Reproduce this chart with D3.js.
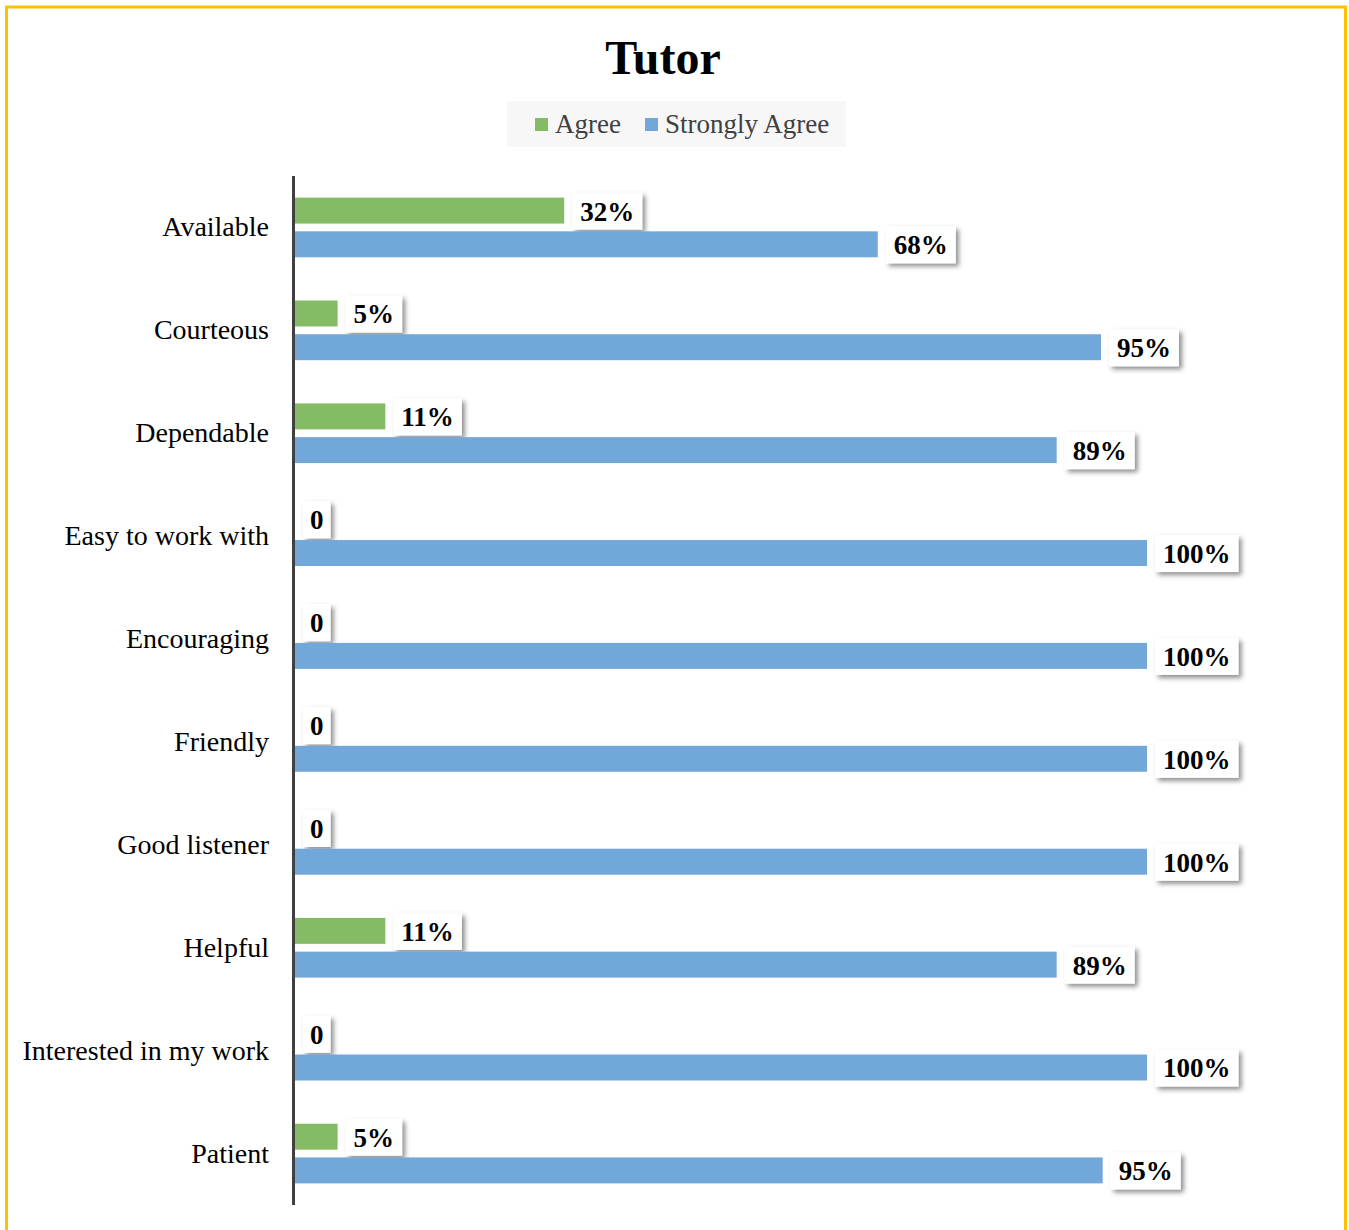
<!DOCTYPE html>
<html>
<head>
<meta charset="utf-8">
<script src="https://cdn.jsdelivr.net/npm/d3@7"></script>
<style>
  body { margin: 0; background: #fff; }
  svg { display: block; font-family: "Liberation Serif", "Times New Roman", serif; }
</style>
</head>
<body>
<div id="chart"></div>
<script>
// data
const categories = ["Available", "Courteous", "Dependable", "Easy to work with", "Encouraging",
    "Friendly", "Good listener", "Helpful", "Interested in my work", "Patient"];
const seriesNames = ["Agree", "Strongly Agree"];
const agree = [31.6, 5, 10.6, 0, 0, 0, 0, 10.6, 0, 5];
const stronglyAgree = [68.4, 94.6, 89.4, 100, 100, 100, 100, 89.4, 100, 94.8];
const colors = ["#86bb66", "#72a7d9"];

const width = 1349, height = 1230;
const svg = d3.select("#chart").append("svg")
    .attr("width", width)
    .attr("height", height);

// drop shadow for the label boxes
const filt = svg.append("defs").append("filter")
    .attr("id", "shadow")
    .attr("x", "-30%").attr("y", "-30%")
    .attr("width", "170%").attr("height", "180%");
filt.append("feDropShadow")
    .attr("dx", 3).attr("dy", 3)
    .attr("stdDeviation", 2.5)
    .attr("flood-color", "#000")
    .attr("flood-opacity", 0.45);

// yellow frame
svg.append("rect")
    .attr("x", 6.5).attr("y", 7)
    .attr("width", 1339).attr("height", 1240)
    .attr("fill", "none")
    .attr("stroke", "#ffc000")
    .attr("stroke-width", 3);

// title
svg.append("text")
    .attr("x", 663).attr("y", 74)
    .attr("text-anchor", "middle")
    .attr("font-size", 48)
    .attr("font-weight", "bold")
    .attr("fill", "#000")
    .text("Tutor");

// legend
const legend = svg.append("g");
legend.append("rect")
    .attr("x", 507).attr("y", 101)
    .attr("width", 339).attr("height", 46)
    .attr("fill", "#f7f7f7");
const legendX = [535, 645];
seriesNames.forEach((name, i) => {
    legend.append("rect")
        .attr("x", legendX[i]).attr("y", 118)
        .attr("width", 13).attr("height", 13)
        .attr("fill", colors[i]);
    legend.append("text")
        .attr("x", legendX[i] + 20).attr("y", 133)
        .attr("font-size", 27)
        .attr("fill", "#404040")
        .text(name);
});

// scales
const x = d3.scaleLinear().domain([0, 100]).range([295, 1147]);
const y = d3.scaleBand().domain(categories).range([176, 1205])
    .paddingInner(0.42).paddingOuter(0.21);
const ySub = d3.scaleBand().domain([0, 1]).range([0, y.bandwidth()]).paddingInner(0.23);

const rows = categories.map((c, i) => ({ cat: c, vals: [agree[i], stronglyAgree[i]] }));

const groups = svg.selectAll("g.row")
    .data(rows)
    .enter().append("g")
    .attr("class", "row")
    .attr("transform", d => `translate(0,${y(d.cat)})`);

const bars = groups.selectAll("g.bar")
    .data(d => d.vals.map((v, k) => ({ v, k })))
    .enter().append("g")
    .attr("class", "bar");

bars.append("rect")
    .attr("x", x(0))
    .attr("y", d => ySub(d.k))
    .attr("width", d => x(d.v) - x(0))
    .attr("height", ySub.bandwidth())
    .attr("fill", d => colors[d.k]);

// data labels in white boxes
bars.each(function (d) {
    const g = d3.select(this);
    const label = d.v === 0 ? "0" : Math.round(d.v) + "%";
    const cy = ySub(d.k) + ySub.bandwidth() / 2;
    const bx = x(d.v) + 8;
    const box = g.append("rect")
        .attr("y", cy - 18)
        .attr("height", 37)
        .attr("fill", "#fff")
        .attr("filter", "url(#shadow)");
    const t = g.append("text")
        .attr("y", cy + 10)
        .attr("font-size", 27)
        .attr("font-weight", "bold")
        .attr("fill", "#000")
        .text(label);
    const tw = t.node().getComputedTextLength();
    const pad = d.v === 0 ? 7 : 8;
    box.attr("x", bx).attr("width", tw + pad * 2);
    t.attr("x", bx + pad);
});

// category labels
svg.selectAll("text.cat")
    .data(categories)
    .enter().append("text")
    .attr("class", "cat")
    .attr("x", 269)
    .attr("y", d => y(d) + y.bandwidth() / 2 + 9)
    .attr("text-anchor", "end")
    .attr("font-size", 28)
    .attr("fill", "#000")
    .text(d => d);

// vertical axis line
svg.append("line")
    .attr("x1", 293.5).attr("x2", 293.5)
    .attr("y1", 176).attr("y2", 1205)
    .attr("stroke", "#404040")
    .attr("stroke-width", 3);
</script>
</body>
</html>
